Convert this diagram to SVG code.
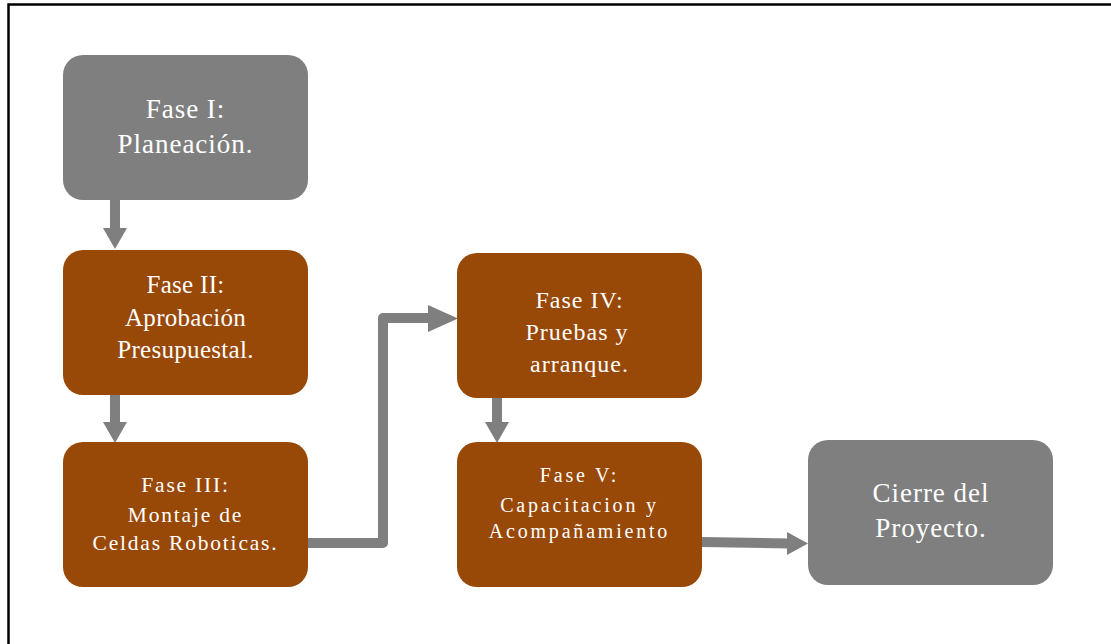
<svg xmlns="http://www.w3.org/2000/svg" width="1111" height="644" viewBox="0 0 1111 644">
<style>
.gray{fill:#7f7f7f}
.brown{fill:#984807}
.t{font-family:"Liberation Serif","Times New Roman",serif;fill:#ffffff;text-anchor:middle}
.c{stroke:#7f7f7f;stroke-width:10;fill:none;stroke-linejoin:round}
.h{fill:#7f7f7f}
</style>
<rect x="0" y="0" width="1111" height="644" fill="#ffffff"/>
<path d="M8.5,650 V4.5 H1120" fill="none" stroke="#000000" stroke-width="2.5"/>
<g id="connectors">
<line class="c" x1="115" y1="200" x2="115" y2="229"/>
<polygon class="h" points="103,228 127,228 115,249"/>
<line class="c" x1="115" y1="395" x2="115" y2="423"/>
<polygon class="h" points="103,422 127,422 115,443"/>
<polyline class="c" points="308,543 383,543 383,318 430,318"/>
<polygon class="h" points="428,305 458,318.5 428,332"/>
<line class="c" x1="497" y1="398" x2="497" y2="423"/>
<polygon class="h" points="485,422 509,422 497,443"/>
<line class="c" x1="702" y1="542" x2="789" y2="543.5"/>
<polygon class="h" points="787,532 808,543.5 787,555"/>
</g>
<g id="n1">
<rect class="gray" x="63" y="55" width="245" height="145" rx="20"/>
<text class="t" font-size="27" letter-spacing="1"><tspan x="185.5" y="118">Fase I:</tspan><tspan x="185.5" y="153">Planeación.</tspan></text>
</g>
<g id="n2">
<rect class="brown" x="63" y="250" width="245" height="145" rx="20"/>
<text class="t" font-size="25" letter-spacing="0.3"><tspan x="185.5" y="293">Fase II:</tspan><tspan x="185.5" y="326">Aprobación</tspan><tspan x="185.5" y="358">Presupuestal.</tspan></text>
</g>
<g id="n3">
<rect class="brown" x="63" y="442" width="245" height="145" rx="20"/>
<text class="t" font-size="21.5" letter-spacing="1.8"><tspan x="185.5" y="492">Fase III:</tspan><tspan x="185.5" y="522">Montaje de</tspan><tspan x="185.5" y="550">Celdas Roboticas.</tspan></text>
</g>
<g id="n4">
<rect class="brown" x="457" y="253" width="245" height="145" rx="20"/>
<text class="t" font-size="24" letter-spacing="1"><tspan x="579.5" y="308">Fase IV:</tspan><tspan x="577" y="340">Pruebas y</tspan><tspan x="579.5" y="372">arranque.</tspan></text>
</g>
<g id="n5">
<rect class="brown" x="457" y="442" width="245" height="145" rx="20"/>
<text class="t" font-size="20" letter-spacing="2.8"><tspan x="579.5" y="482">Fase V:</tspan><tspan x="579.5" y="512">Capacitacion y</tspan><tspan x="579.5" y="538">Acompañamiento</tspan></text>
</g>
<g id="n6">
<rect class="gray" x="808" y="440" width="245" height="145" rx="20"/>
<text class="t" font-size="27" letter-spacing="1"><tspan x="931" y="502">Cierre del</tspan><tspan x="931" y="537">Proyecto.</tspan></text>
</g>
</svg>
